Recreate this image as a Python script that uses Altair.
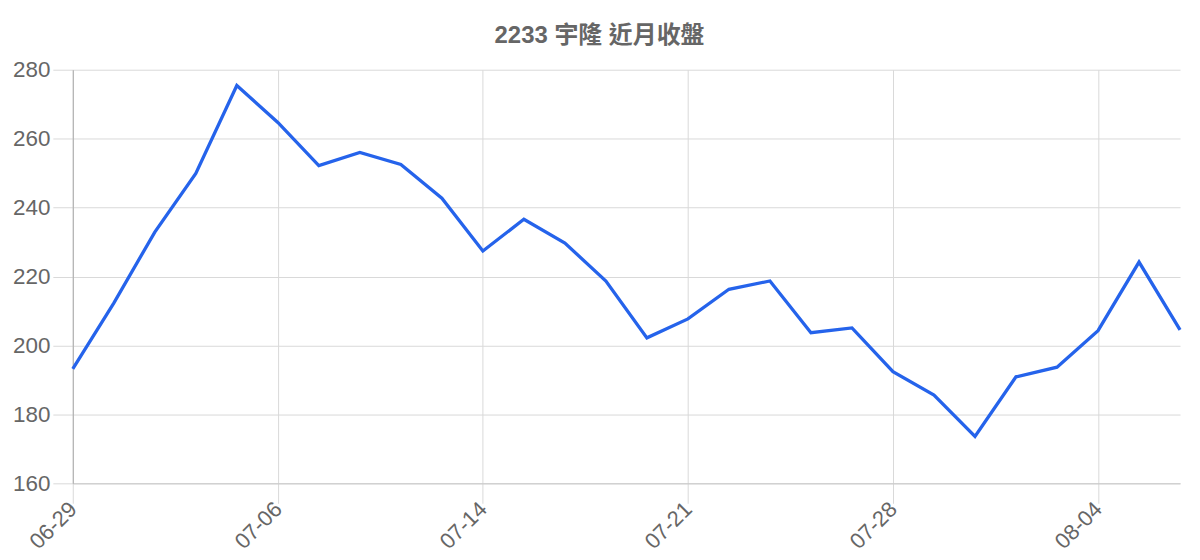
import altair as alt
import pandas as pd

dates = ["06-29", "06-30", "07-03", "07-04", "07-05", "07-06", "07-07", "07-10",
         "07-11", "07-12", "07-14", "07-17", "07-18", "07-19", "07-20", "07-21",
         "07-24", "07-25", "07-26", "07-27", "07-28", "07-31", "08-01", "08-02",
         "08-03", "08-04", "08-07", "08-08"]
close = [193.2, 212.3, 232.9, 249.9, 275.4, 264.7, 252.2, 256.0, 252.5, 242.7,
         227.4, 236.6, 229.7, 218.7, 202.2, 207.7, 216.3, 218.7, 203.7, 205.1,
         192.4, 185.6, 173.6, 190.9, 193.7, 204.3, 224.2, 204.5]
tick_labels = ["06-29", "07-06", "07-14", "07-21", "07-28", "08-04"]
y_ticks = [160, 180, 200, 220, 240, 260, 280]

df = pd.DataFrame({"date": dates, "close": close})

FONT = "Liberation Sans, Arial, Noto Sans CJK TC"
GRID = "#d9d9d9"
LABEL = "#666666"

chart = alt.Chart(df).mark_line(color="#2563eb", strokeWidth=3.3).encode(
    x=alt.X("date:O", sort=dates,
            scale=alt.Scale(type="point", padding=0),
            axis=alt.Axis(values=tick_labels, labelAngle=-45, title=None,
                          grid=True, gridColor=GRID, tickSize=20, tickColor=GRID,
                          domainColor="#c8c8c8", labelFontSize=22, labelColor=LABEL,
                          labelFont=FONT, labelPadding=2, labelAlign="right",
                          labelBaseline="middle")),
    y=alt.Y("close:Q",
            scale=alt.Scale(domain=[160, 280], nice=False, zero=False),
            axis=alt.Axis(values=y_ticks, title=None, grid=True, gridColor=GRID,
                          tickSize=20, tickColor=GRID, domainColor="#aaaaaa",
                          labelFontSize=22.5, labelColor=LABEL, labelFont=FONT,
                          labelPadding=3)),
).properties(
    width=1111, height=415,
    title=alt.TitleParams("2233 宇隆 近月收盤", fontSize=24, font=FONT,
                          color=LABEL, fontWeight="bold", offset=11,
                          anchor="middle", frame="bounds"),
    padding={"left": 4, "top": 15, "right": 5, "bottom": 0},
).configure_view(stroke=None)

chart.save("out.html", embed_options={"renderer": "svg", "actions": False})
